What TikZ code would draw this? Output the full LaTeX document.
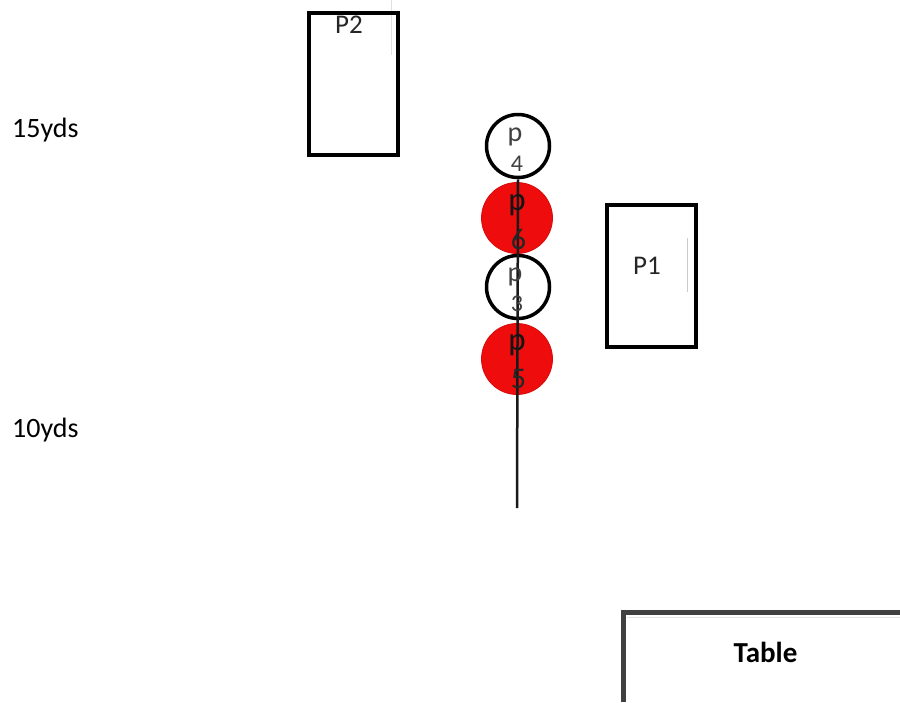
\documentclass[tikz,border=0pt]{standalone}
\usepackage{fontspec}
\setmainfont{Carlito}
\definecolor{pred}{RGB}{238,12,12}
\definecolor{tablegray}{RGB}{64,64,64}
\begin{document}
\begin{tikzpicture}[x=1pt,y=-1pt,
  playerbox/.style={rectangle, draw=black, line width=4pt, minimum width=89pt, minimum height=142pt, inner sep=0pt},
  boxlabel/.style={inner sep=0pt, anchor=base, font=\fontsize{27}{30}\selectfont, text=black!85},
  ring/.style={circle, draw=black, line width=3.5pt, fill=white, minimum size=63pt, inner sep=0pt},
  redring/.style={circle, draw=pred!90!black, line width=0.8pt, fill=pred, minimum size=71pt, inner sep=0pt},
  smallp/.style={inner sep=0pt, anchor=base, text=black!75, font=\fontsize{28}{30}\selectfont},
  smalld/.style={inner sep=0pt, anchor=base, text=black!75, font=\fontsize{24}{26}\selectfont},
  bigp/.style={inner sep=0pt, anchor=base, text=black!92, font=\fontsize{33}{36}\selectfont},
  bigd/.style={inner sep=0pt, anchor=base, text=black!85, font=\fontsize{30}{32}\selectfont},
  ydtxt/.style={inner sep=0pt, anchor=base west, font=\fontsize{28}{30}\selectfont},
  faint/.style={line width=1pt}
]
\useasboundingbox (0,0) rectangle (900,702);

% P2 and P1
\draw[faint, black!12] (391,0) -- (391,55);
\node[playerbox] (p2) at (353,83.5) {};
\node[boxlabel] (p2l) at (349,33) {P2};
\node[playerbox] (p1) at (651.5,276) {};
\draw[faint, black!20] (687,238) -- (687,292);
\node[boxlabel] (p1l) at (647,274) {P1};

% circles
\node[ring] (c4) at (518,146) {};
\node[redring] (c6) at (517,218) {};
\node[ring] (c3) at (518,287) {};
\node[redring] (c5) at (517,359) {};
\coordinate (lineend) at (517,508);
\draw[line width=2.5pt, black!90] (c4.south) -- (lineend);

\node[smallp] (t4p) at (515,141.5) {p};
\node[smalld] (t4d) at (517,171) {4};
\node[bigp] (t6p) at (517,210) {p};
\node[bigd] (t6d) at (518.5,249) {6};
\node[smallp] (t3p) at (515,281) {p};
\node[smalld] (t3d) at (517,311) {3};
\node[bigp] (t5p) at (517,350) {p};
\node[bigd] (t5d) at (518.5,388) {5};

% yard labels
\node[ydtxt] (y15) at (12,137) {15yds};
\node[ydtxt] (y10) at (12,437) {10yds};

% table
\coordinate (tb) at (623,702);
\coordinate (tc) at (623,612);
\coordinate (tr) at (900,612);
\draw[faint, black!10] (627,617) -- (900,617);
\draw[line width=5pt, tablegray] (tb) -- (tc) -- (tr);
\node[inner sep=0pt, anchor=base, font=\fontsize{29}{32}\selectfont\bfseries] (tbl) at (765.5,662) {Table};
\end{tikzpicture}
\end{document}
